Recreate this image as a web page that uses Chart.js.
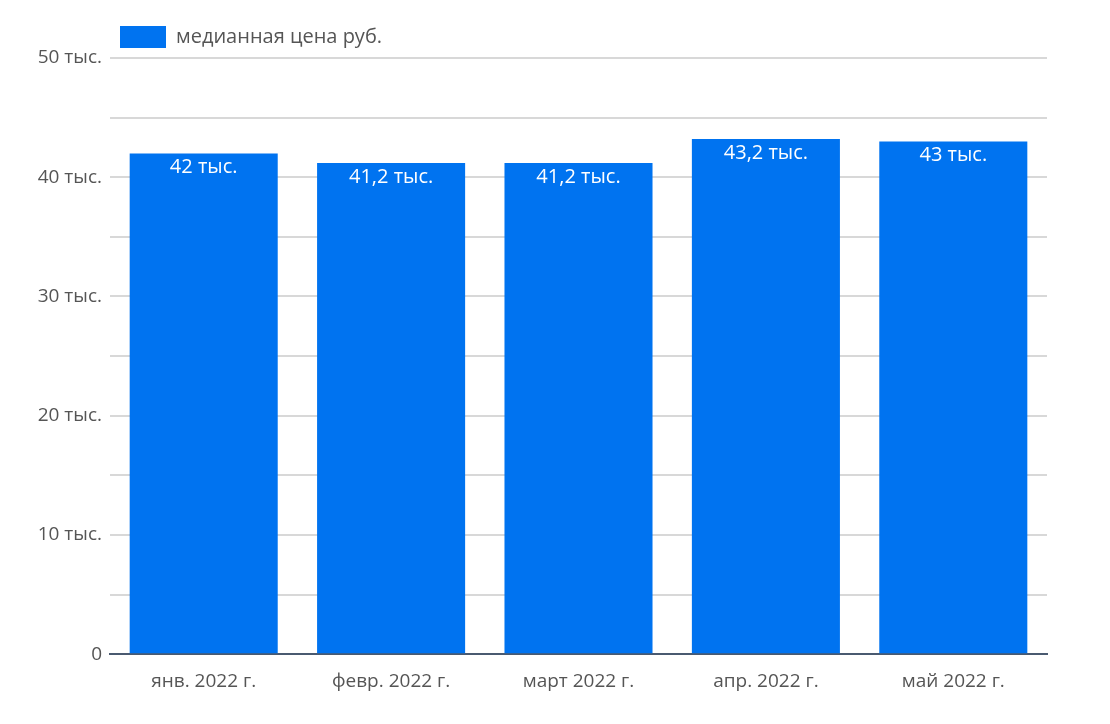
<!DOCTYPE html>
<html>
<head>
<meta charset="utf-8">
<script src="https://cdn.jsdelivr.net/npm/chart.js@4"></script>
<style>
body { margin: 0; background: #fff; }
#wrap { width: 1110px; height: 724px; }
</style>
</head>
<body>
<div id="wrap"><canvas id="chart"></canvas></div>
<script>
const months = ['янв. 2022 г.', 'февр. 2022 г.', 'март 2022 г.', 'апр. 2022 г.', 'май 2022 г.'];
const medianPrice = [42000, 41200, 41200, 43200, 43000];
const valueLabels = ['42 тыс.', '41,2 тыс.', '41,2 тыс.', '43,2 тыс.', '43 тыс.'];

// подписи значений внутри столбцов
const barLabels = {
    id: 'barLabels',
    afterDatasetsDraw(chart) {
        const ctx = chart.ctx;
        const meta = chart.getDatasetMeta(0);
        ctx.save();
        ctx.fillStyle = '#fff';
        ctx.font = '20px "Open Sans", sans-serif';
        ctx.textAlign = 'center';
        ctx.textBaseline = 'top';
        meta.data.forEach((bar, i) => {
            ctx.fillText(valueLabels[i], bar.x, bar.y + 4);
        });
        ctx.restore();
    }
};

new Chart(document.getElementById('chart'), {
    type: 'bar',
    data: {
        labels: months,
        datasets: [{
            label: 'медианная цена руб.',
            data: medianPrice,
            backgroundColor: '#0073F0',
            barPercentage: 0.79,
            categoryPercentage: 1
        }]
    },
    options: {
        responsive: true,
        maintainAspectRatio: false,
        animation: false,
        layout: { padding: { top: 16, right: 63, bottom: 23, left: 18 } },
        plugins: {
            legend: {
                align: 'start',
                fullSize: false,
                labels: {
                    boxWidth: 46, boxHeight: 22,
                    color: '#555',
                    font: { size: 20, family: '"Open Sans", sans-serif' },
                    padding: 10
                }
            },
            tooltip: { enabled: false }
        },
        scales: {
            x: {
                grid: { display: false },
                border: { color: '#4a5a70', width: 2 },
                ticks: { color: '#555', font: { size: 19, family: '"Open Sans", sans-serif' }, padding: 8 }
            },
            y: {
                min: 0, max: 50000,
                border: { display: false },
                grid: { color: '#d8d8d8', lineWidth: 2, drawTicks: false },
                afterFit: s => { s.width = 92; },
                ticks: {
                    stepSize: 5000,
                    padding: 8,
                    color: '#555',
                    font: { size: 19, family: '"Open Sans", sans-serif' },
                    callback: v => v === 0 ? '0' : (v % 10000 === 0 ? (v / 1000) + ' тыс.' : '')
                }
            }
        }
    },
    plugins: [barLabels]
});
</script>
</body>
</html>
